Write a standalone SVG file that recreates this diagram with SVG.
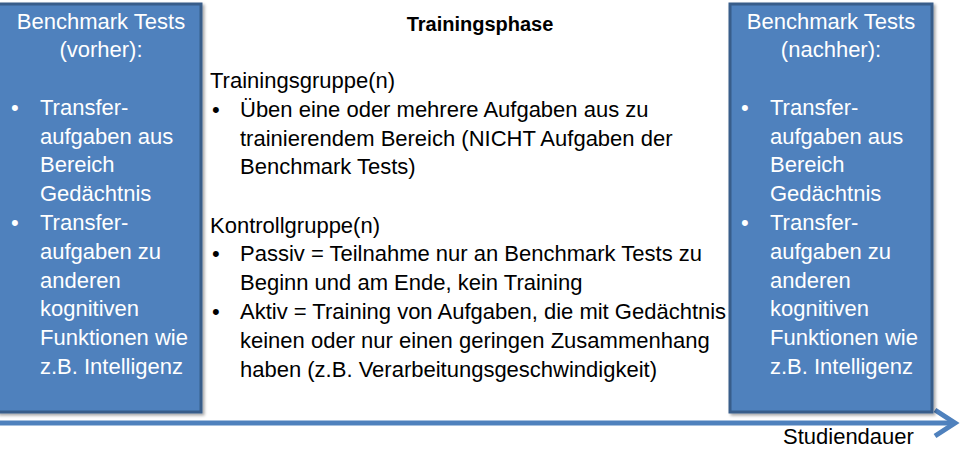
<svg xmlns="http://www.w3.org/2000/svg" width="960" height="450" viewBox="0 0 960 450">
<defs>
<style>
.box{fill:#4F81BD;stroke:#385D8A;stroke-width:3}
.wt{font-family:"Liberation Sans",Arial,sans-serif;font-size:22px;fill:#ffffff}
.bt{font-family:"Liberation Sans",Arial,sans-serif;font-size:22px;fill:#000000}
.hd{font-family:"Liberation Sans",Arial,sans-serif;font-size:20px;font-weight:bold;fill:#000000}
.ctr{text-anchor:middle}
.arrow{fill:none;stroke:#4F81BD;stroke-width:5}
</style>
<filter id="sh" x="-5%" y="-5%" width="115%" height="115%">
<feDropShadow dx="2" dy="2" stdDeviation="1.5" flood-color="#000" flood-opacity="0.35"/>
</filter>
</defs>
<rect width="960" height="450" fill="#ffffff"/>
<g id="connectors">
<line class="arrow" x1="0" y1="423" x2="954" y2="423"/>
<polyline class="arrow" points="935,410 955,423 935,436" stroke-linejoin="miter"/>
</g>
<g id="vorher">
<rect class="box" x="-2" y="4" width="203" height="408" filter="url(#sh)"/>
<text class="wt ctr" x="101" y="29">Benchmark Tests</text>
<text class="wt ctr" x="101" y="57">(vorher):</text>
<text class="wt" x="11" y="115">•</text>
<text class="wt" x="40" y="115">Transfer-</text>
<text class="wt" x="40" y="144">aufgaben aus</text>
<text class="wt" x="40" y="172">Bereich</text>
<text class="wt" x="40" y="201">Gedächtnis</text>
<text class="wt" x="11" y="230">•</text>
<text class="wt" x="40" y="230">Transfer-</text>
<text class="wt" x="40" y="259">aufgaben zu</text>
<text class="wt" x="40" y="288">anderen</text>
<text class="wt" x="40" y="316">kognitiven</text>
<text class="wt" x="40" y="345">Funktionen wie</text>
<text class="wt" x="40" y="374">z.B. Intelligenz</text>
</g>
<g id="nachher">
<rect class="box" x="730" y="4" width="202" height="408" filter="url(#sh)"/>
<text class="wt ctr" x="831" y="29">Benchmark Tests</text>
<text class="wt ctr" x="831" y="57">(nachher):</text>
<text class="wt" x="741" y="115">•</text>
<text class="wt" x="770" y="115">Transfer-</text>
<text class="wt" x="770" y="144">aufgaben aus</text>
<text class="wt" x="770" y="172">Bereich</text>
<text class="wt" x="770" y="201">Gedächtnis</text>
<text class="wt" x="741" y="230">•</text>
<text class="wt" x="770" y="230">Transfer-</text>
<text class="wt" x="770" y="259">aufgaben zu</text>
<text class="wt" x="770" y="288">anderen</text>
<text class="wt" x="770" y="316">kognitiven</text>
<text class="wt" x="770" y="345">Funktionen wie</text>
<text class="wt" x="770" y="374">z.B. Intelligenz</text>
</g>
<g id="trainingsphase">
<text class="hd ctr" x="480" y="31">Trainingsphase</text>
<text class="bt" x="210" y="88">Trainingsgruppe(n)</text>
<text class="bt" x="212" y="117">•</text>
<text class="bt" x="240" y="117">Üben eine oder mehrere Aufgaben aus zu</text>
<text class="bt" x="240" y="146">trainierendem Bereich (NICHT Aufgaben der</text>
<text class="bt" x="240" y="174">Benchmark Tests)</text>
<text class="bt" x="210" y="233">Kontrollgruppe(n)</text>
<text class="bt" x="212" y="261">•</text>
<text class="bt" x="240" y="261">Passiv = Teilnahme nur an Benchmark Tests zu</text>
<text class="bt" x="240" y="290">Beginn und am Ende, kein Training</text>
<text class="bt" x="212" y="319">•</text>
<text class="bt" x="240" y="319">Aktiv = Training von Aufgaben, die mit Gedächtnis</text>
<text class="bt" x="240" y="348">keinen oder nur einen geringen Zusammenhang</text>
<text class="bt" x="240" y="377">haben (z.B. Verarbeitungsgeschwindigkeit)</text>
</g>
<g id="studiendauer">
<text class="bt" x="783" y="444">Studiendauer</text>
</g>
</svg>
